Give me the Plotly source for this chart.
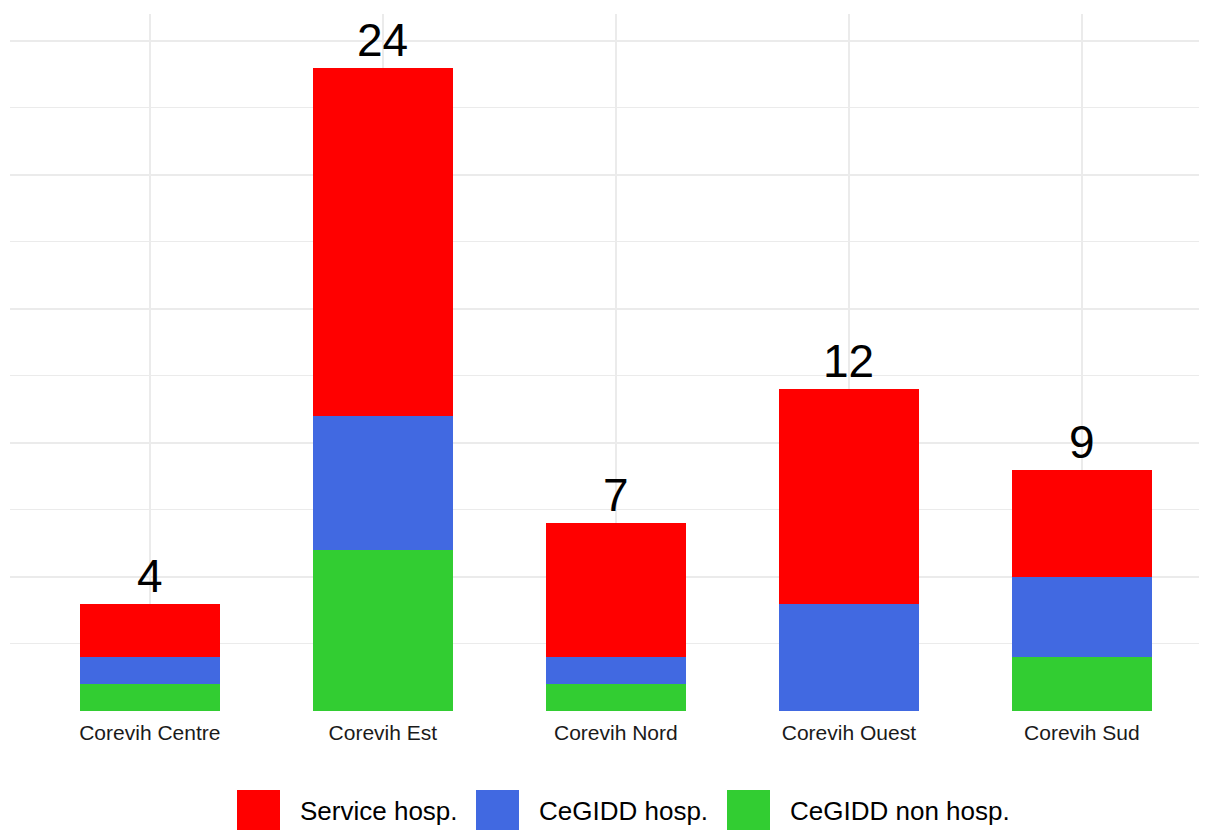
import plotly.graph_objects as go

# ---- data ----
categories = ["Corevih Centre", "Corevih Est", "Corevih Nord", "Corevih Ouest", "Corevih Sud"]
series_names = ["Service hosp.", "CeGIDD hosp.", "CeGIDD non hosp."]
service_hosp = [2, 13, 5, 8, 4]
cegidd_hosp = [1, 5, 1, 4, 3]
cegidd_non_hosp = [1, 6, 1, 0, 2]
totals = [a + b + c for a, b, c in zip(service_hosp, cegidd_hosp, cegidd_non_hosp)]

colors = {"Service hosp.": "#FF0000", "CeGIDD hosp.": "#4169E1", "CeGIDD non hosp.": "#32CD32"}
values = {"Service hosp.": service_hosp, "CeGIDD hosp.": cegidd_hosp, "CeGIDD non hosp.": cegidd_non_hosp}

FONT = "Liberation Sans, Arial, Helvetica, sans-serif"

fig = go.Figure()
# stacking from bottom: green, blue, red
for name in ["CeGIDD non hosp.", "CeGIDD hosp.", "Service hosp."]:
    fig.add_trace(go.Bar(
        x=categories, y=values[name], name=name,
        marker=dict(color=colors[name], line=dict(width=0)),
        width=0.6, showlegend=False, hoverinfo="x+y+name",
    ))

# total labels
for cat, tot in zip(categories, totals):
    fig.add_annotation(x=cat, y=tot, text=str(tot), showarrow=False,
                       xref="x", yref="y", yanchor="bottom",
                       font=dict(size=46, color="#000000", family=FONT))

# page body has an 8px margin; figure is sized to fill the rest of the window
OFF = 8
W, H = 1207 - OFF, 830 - OFF
# plot area in page pixels: x 10..1207, y 14..711
L, R, T, B = 10 - OFF, 0, 14 - OFF, 830 - 711
pw, ph = W - L - R, H - T - B

def px_x(px):
    return (px - OFF - L) / pw

def px_y(py):
    return (H - B - (py - OFF)) / ph

key_x = [237, 476, 727]
key_size = 43
key_top = 790
for name, kx in zip(series_names, key_x):
    fig.add_shape(type="rect", xref="paper", yref="paper",
                  x0=px_x(kx), x1=px_x(kx + key_size),
                  y0=px_y(key_top + key_size), y1=px_y(key_top),
                  fillcolor=colors[name], line=dict(width=0))
    fig.add_annotation(x=px_x(kx + key_size + 18), y=px_y(key_top + 21),
                       xref="paper", yref="paper", xanchor="left", yanchor="middle",
                       text=name, showarrow=False,
                       font=dict(size=26, color="#000000", family=FONT))

fig.update_layout(
    barmode="stack",
    width=W, height=H,
    margin=dict(l=L, r=R, t=T, b=B, pad=0),
    plot_bgcolor="white", paper_bgcolor="white",
    font=dict(family=FONT, color="#1A1A1A"),
    bargap=0.4,
)
fig.update_xaxes(
    type="category", range=[-0.6, 4.537],
    showgrid=True, gridcolor="#EBEBEB", gridwidth=2,
    showline=False, zeroline=False, ticks="",
    ticklabelstandoff=7,
    tickfont=dict(size=21, color="#1A1A1A", family=FONT),
)
fig.update_yaxes(
    range=[0, 26.0], dtick=5, tick0=0,
    showgrid=True, gridcolor="#EBEBEB", gridwidth=2,
    minor=dict(dtick=2.5, tick0=0, showgrid=True, gridcolor="#EBEBEB", gridwidth=1),
    showticklabels=False, ticks="", zeroline=False, showline=False,
)

fig.write_html("out.html")
